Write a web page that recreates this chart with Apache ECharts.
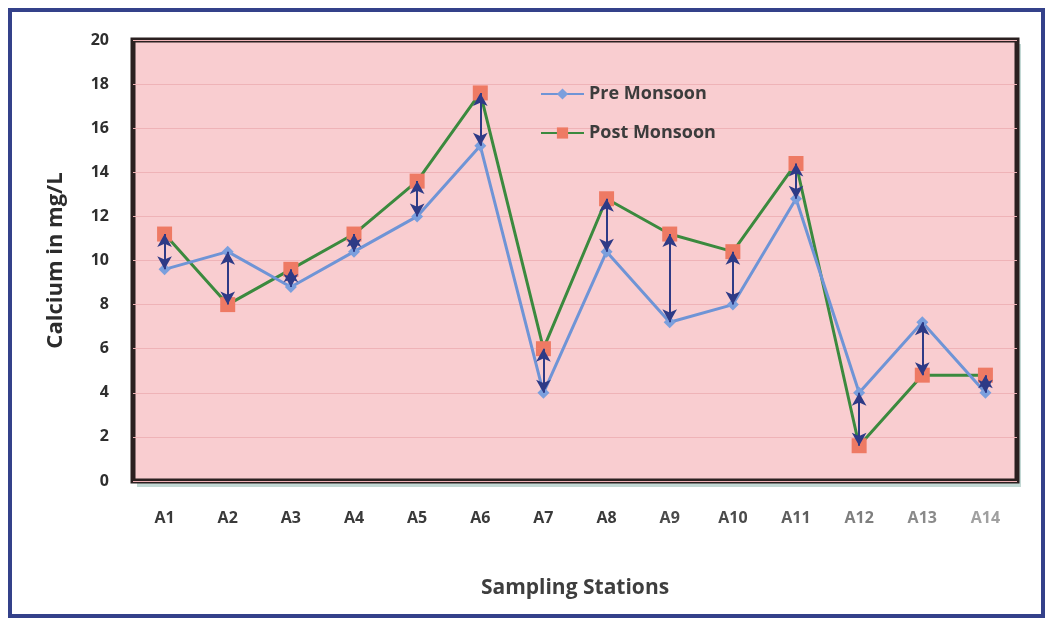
<!DOCTYPE html>
<html>
<head>
<meta charset="utf-8">
<script src="https://cdn.jsdelivr.net/npm/echarts@6/dist/echarts.min.js"></script>
<style>
  html, body { margin: 0; padding: 0; background: #ffffff; }
  #chart { width: 1048px; height: 621px; }
</style>
</head>
<body>
<div id="chart"></div>
<script>
// Calcium concentration (mg/L) at each sampling station
const stations = ['A1', 'A2', 'A3', 'A4', 'A5', 'A6', 'A7', 'A8', 'A9', 'A10', 'A11', 'A12', 'A13', 'A14'];
const preMonsoon = [9.6, 10.4, 8.8, 10.4, 12.0, 15.2, 4.0, 10.4, 7.2, 8.0, 12.8, 4.0, 7.2, 4.0];
const postMonsoon = [11.2, 8.0, 9.6, 11.2, 13.6, 17.6, 6.0, 12.8, 11.2, 10.4, 14.4, 1.6, 4.8, 4.8];
const yTicks = { min: 0, max: 20, interval: 2 };

// station labels towards the right side print progressively lighter
const labelShades = ['#3a3a3a', '#3a3a3a', '#3a3a3a', '#3a3a3a', '#3a3a3a', '#3a3a3a', '#3a3a3a',
                     '#3a3a3a', '#4a4a4a', '#4a4a4a', '#5e5e5e', '#7e7e7e', '#8a8a8a', '#a0a0a0'];

// double-headed arrows joining the two seasons at each station
const changeArrows = stations.map((s, i) => [
  { coord: [i, preMonsoon[i]] },
  { coord: [i, postMonsoon[i]] }
]);

const FONT = '"Open Sans", Lato, sans-serif';

const chart = echarts.init(document.getElementById('chart'), null, { renderer: 'canvas' });
chart.setOption({
  animation: false,
  backgroundColor: '#ffffff',
  graphic: [
    {
      type: 'rect',
      shape: { x: 10, y: 10, width: 1033, height: 606 },
      style: { fill: 'none', stroke: '#34418a', lineWidth: 4 },
      z: 100
    },
    {
      type: 'rect',
      shape: { x: 137, y: 44, width: 884, height: 443 },
      style: { fill: '#8fb8b0', opacity: 0.55 },
      z: -1
    }
  ],
  grid: {
    left: 133, top: 40, right: 31, bottom: 140,
    show: true,
    backgroundColor: '#f9cdd0',
    borderColor: '#2b2020',
    borderWidth: 5
  },
  legend: {
    orient: 'vertical',
    left: 535, top: 80,
    itemWidth: 43, itemHeight: 14, itemGap: 21,
    textStyle: { fontFamily: FONT, fontSize: 18, fontWeight: 'bold', color: '#3c3c3c' },
    data: ['Pre Monsoon', 'Post Monsoon']
  },
  xAxis: {
    type: 'category',
    data: stations,
    boundaryGap: true,
    name: 'Sampling Stations',
    nameLocation: 'middle',
    nameGap: 97,
    nameTextStyle: { fontFamily: FONT, fontSize: 21, fontWeight: 'bold', color: '#3e3e3e' },
    axisLine: { show: false },
    axisTick: { show: false },
    axisLabel: {
      margin: 29,
      fontFamily: FONT, fontSize: 16, fontWeight: 'bold',
      color: (value, index) => labelShades[index]
    }
  },
  yAxis: {
    type: 'value',
    min: yTicks.min, max: yTicks.max, interval: yTicks.interval,
    name: 'Calcium in mg/L',
    nameLocation: 'middle',
    nameGap: 66,
    nameTextStyle: { fontFamily: FONT, fontSize: 22, fontWeight: 'bold', color: '#2c2c2c' },
    axisLine: { show: false },
    axisTick: { show: false },
    splitLine: { lineStyle: { color: '#efb3b7', width: 1 } },
    axisLabel: { margin: 24, fontFamily: FONT, fontSize: 16, fontWeight: 'bold', color: '#2e2e2e' }
  },
  series: [
    {
      name: 'Pre Monsoon',
      type: 'line',
      data: preMonsoon,
      symbol: 'diamond',
      symbolSize: 12,
      itemStyle: { color: '#7b9fdd' },
      lineStyle: { color: '#6f94d6', width: 3 },
      z: 3
    },
    {
      name: 'Post Monsoon',
      type: 'line',
      data: postMonsoon,
      symbol: 'rect',
      symbolSize: 15,
      itemStyle: { color: '#ee7a64' },
      lineStyle: { color: '#3b8a3e', width: 3 },
      z: 2,
      markLine: {
        silent: true,
        symbol: ['arrow', 'arrow'],
        symbolSize: [11, 13],
        label: { show: false },
        lineStyle: { color: '#2e3a86', width: 2, type: 'solid' },
        emphasis: { disabled: true },
        data: changeArrows,
        z: 5
      }
    }
  ]
});
</script>
</body>
</html>
